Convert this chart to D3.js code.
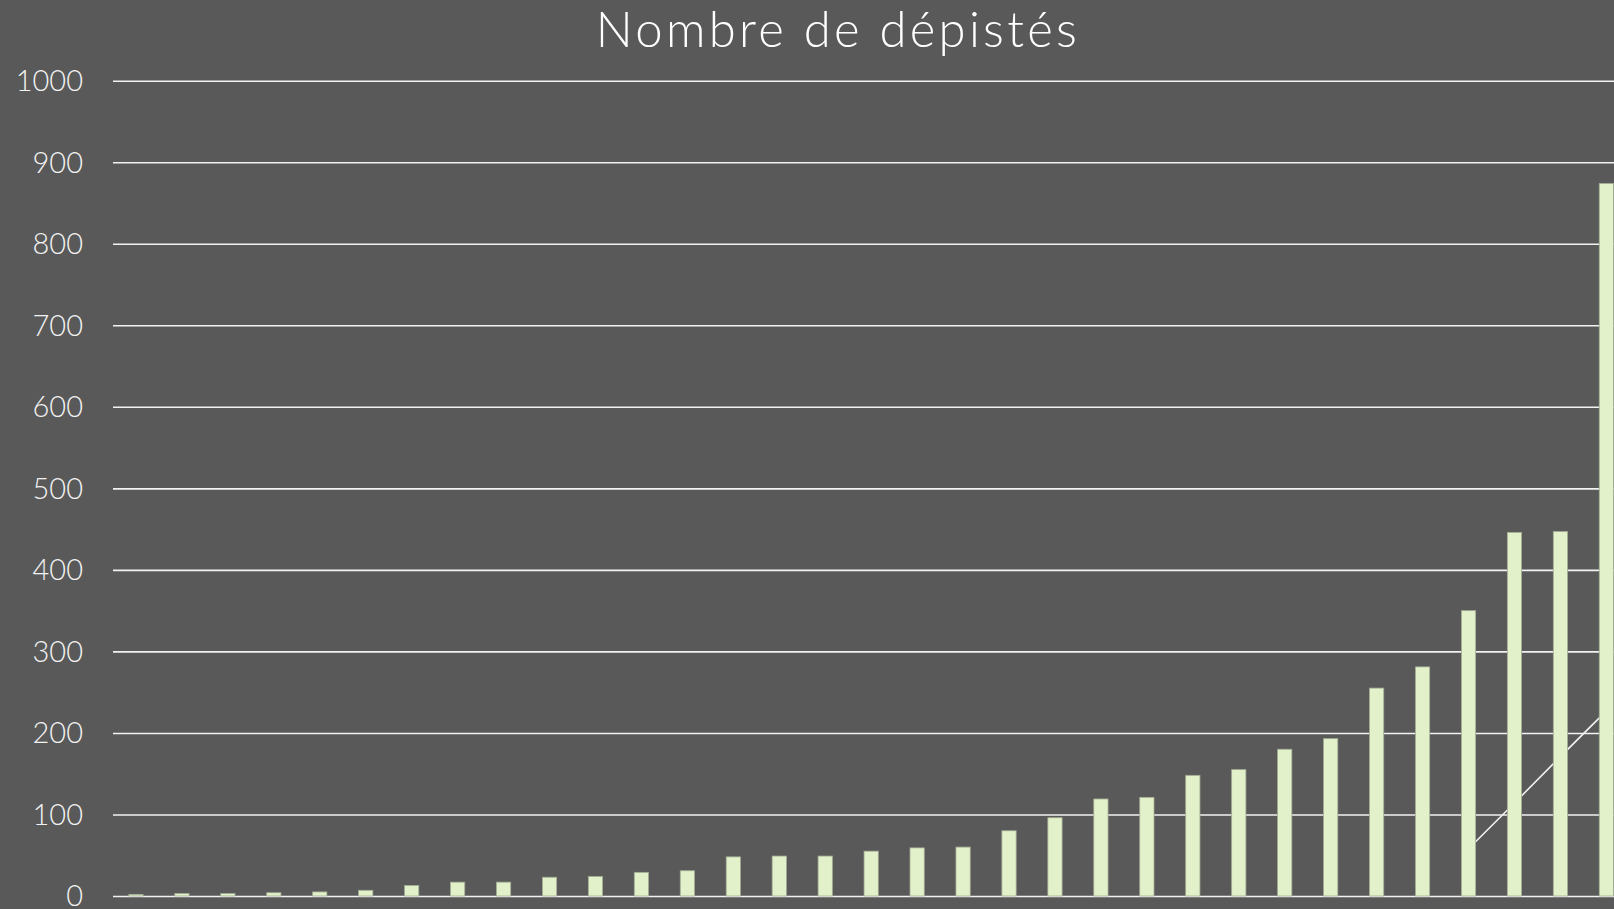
<!DOCTYPE html>
<html lang="fr">
<head>
    <meta charset="UTF-8">
    <title>Nombre de dépistés</title>
    <style>
        html, body { margin: 0; padding: 0; background: #595959; overflow: hidden; }
        .grid line { stroke: #f2f2f2; stroke-width: 1.6px; }
        .grid .domain { display: none; }
        .tick-label { fill: #f2f2f2; font-family: Lato, "Open Sans", sans-serif; font-size: 29px; font-weight: 300; }
        .title { fill: #ffffff; font-family: Lato, "Open Sans", sans-serif; font-size: 49px; font-weight: 300; letter-spacing: 3.3px; }
        .bar { fill: #e2f1c9; stroke: #a3ad95; stroke-width: 0.8px; }
        .trend { fill: none; stroke: #f2f2f2; stroke-width: 1.6px; }
    </style>
    <script src="https://d3js.org/d3.v7.min.js"></script>
</head>
<body>
    <svg width="1614" height="909"></svg>
    <script>
        const width = 1614;
        const height = 909;

        // day numbers (x labels are cropped out of the picture)
        const categories = ["1", "2", "3", "4", "5", "6", "7", "8", "9", "10", "11",
            "12", "13", "14", "15", "16", "17", "18", "19", "20", "21", "22",
            "23", "24", "25", "26", "27", "28", "29", "30", "31", "32", "33"];

        // screened people per day
        const depistes = [2, 3, 3, 4, 5, 7, 13, 17, 17, 23, 24, 29, 31,
            48, 49, 49, 55, 59, 60, 80, 96, 119, 121, 148, 155,
            180, 193, 255, 281, 350, 446, 447, 874];

        // second series, only present on the last days
        const ligne = [null, null, null, null, null, null, null, null, null, null, null,
            null, null, null, null, null, null, null, null, null, null, null,
            null, null, null, null, null, null, null, 58, 114, 171, 227];

        const yTicks = [0, 100, 200, 300, 400, 500, 600, 700, 800, 900, 1000];

        const left = 113;
        const step = 45.95;
        const x = d3.scaleBand()
            .domain(categories)
            .range([left, left + step * categories.length])
            .paddingInner(0.69)
            .paddingOuter(0.345);

        const y = d3.scaleLinear()
            .domain([0, 1000])
            .range([896, 80.7]);

        const svg = d3.select("svg");

        svg.append("rect")
            .attr("width", width)
            .attr("height", height)
            .attr("fill", "#595959");

        // horizontal grid lines
        svg.append("g")
            .attr("class", "grid")
            .attr("transform", `translate(${left},0)`)
            .call(d3.axisRight(y).tickValues(yTicks).tickSize(width).tickFormat(""));

        // y labels
        svg.append("g")
            .selectAll("text")
            .data(yTicks)
            .enter().append("text")
            .attr("class", "tick-label")
            .attr("x", 83)
            .attr("y", d => y(d))
            .attr("dy", "0.36em")
            .attr("text-anchor", "end")
            .text(d => d);

        // white line sits behind the bars
        const line = d3.line()
            .defined(d => d != null)
            .x((d, i) => x(categories[i]) + x.bandwidth() / 2)
            .y(d => y(d));

        svg.append("path")
            .datum(ligne)
            .attr("class", "trend")
            .attr("d", line);

        svg.append("g")
            .selectAll("rect")
            .data(depistes)
            .enter().append("rect")
            .attr("class", "bar")
            .attr("x", (d, i) => x(categories[i]))
            .attr("width", x.bandwidth())
            .attr("y", d => y(d))
            .attr("height", d => y(0) - y(d));

        svg.append("text")
            .attr("class", "title")
            .attr("x", 838)
            .attr("y", 47)
            .attr("text-anchor", "middle")
            .text("Nombre de dépistés");
    </script>
</body>
</html>
